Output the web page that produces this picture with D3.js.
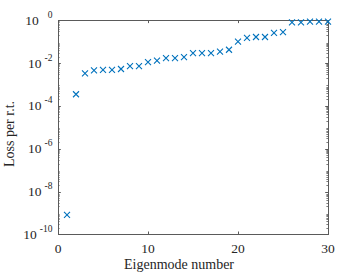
<!DOCTYPE html>
<html><head><meta charset="utf-8">
<script src="https://cdn.jsdelivr.net/npm/d3@7"></script>
<style>
body{margin:0;background:#fff;}
svg{display:block;}
text{font-family:"Liberation Serif","Times New Roman",serif;fill:#262626;}
</style></head>
<body><svg id="c" width="363" height="273"></svg>
<script>
const modes = d3.range(1, 31);
const losses = [8e-10, 3.5e-4, 3.3e-3, 4.6e-3, 4.8e-3, 4.8e-3, 5.3e-3, 7.3e-3, 7.3e-3, 1.1e-2,
  1.3e-2, 1.7e-2, 1.7e-2, 1.9e-2, 2.9e-2, 2.95e-2, 2.95e-2, 3.4e-2, 4.2e-2, 0.1,
  0.15, 0.166, 0.166, 0.26, 0.28, 0.8, 0.8, 0.86, 0.86, 0.86];
const xTicks = [0, 10, 20, 30];
const yTickExps = [0, -2, -4, -6, -8, -10];
const xLabel = "Eigenmode number";
const yLabel = "Loss per r.t.";

const svg = d3.select("#c");
const L = 58, R = 328, T = 20.3, B = 234.3;
const x = d3.scaleLinear().domain([0, 30]).range([L, R]);
const y = d3.scaleLog().domain([1e-10, 1]).range([B, T]);
const axisColor = "#5a5a5a";

// minor ticks
const minor = [];
for (let e = -10; e < 0; e++) for (let m = 2; m <= 9; m++) minor.push(m * Math.pow(10, e));
const g = svg.append("g");
minor.forEach(v => {
  const yy = Math.round(y(v)) + 0.5;
  g.append("line").attr("x1", L).attr("x2", L + 1.6).attr("y1", yy).attr("y2", yy).attr("stroke", axisColor).attr("stroke-width", 0.8);
  g.append("line").attr("x1", R).attr("x2", R - 1.6).attr("y1", yy).attr("y2", yy).attr("stroke", axisColor).attr("stroke-width", 0.8);
});
// major y ticks
yTickExps.forEach(e => {
  const yy = Math.round(y(Math.pow(10, e))) + 0.5;
  g.append("line").attr("x1", L).attr("x2", L + 2.8).attr("y1", yy).attr("y2", yy).attr("stroke", axisColor);
  g.append("line").attr("x1", R).attr("x2", R - 2.8).attr("y1", yy).attr("y2", yy).attr("stroke", axisColor);
  const t = g.append("text").attr("x", 52.5).attr("y", y(Math.pow(10, e)) + 4.5).attr("text-anchor", "end").attr("font-size", 13.5);
  t.append("tspan").text("10");
  t.append("tspan").attr("dx", e === 0 ? 9 : 3).attr("dy", -7).attr("font-size", 9.5).text(String(e));
});
// x ticks
xTicks.forEach(v => {
  const xx = Math.round(x(v)) + 0.5;
  g.append("line").attr("x1", xx).attr("x2", xx).attr("y1", B).attr("y2", B - 2.8).attr("stroke", axisColor);
  g.append("line").attr("x1", xx).attr("x2", xx).attr("y1", T).attr("y2", T + 2.8).attr("stroke", axisColor);
  g.append("text").attr("x", x(v)).attr("y", 252.5).attr("text-anchor", "middle").attr("font-size", 13.5).text(v);
});
// box
g.append("rect").attr("x", Math.round(L) + 0.5).attr("y", Math.round(T) + 0.5)
  .attr("width", Math.round(R) - Math.round(L)).attr("height", Math.round(B) - Math.round(T))
  .attr("fill", "none").attr("stroke", axisColor).attr("stroke-width", 1);

// labels
svg.append("text").attr("x", 179).attr("y", 268.5).attr("text-anchor", "middle").attr("font-size", 14).text(xLabel);
svg.append("text").attr("transform", "translate(14," + 134 + ") rotate(-90)").attr("text-anchor", "middle").attr("font-size", 14).text(yLabel);

// markers
const s = 3;
const mk = svg.append("g").attr("stroke", "#0072BD").attr("stroke-width", 1.1).attr("fill", "none");
modes.forEach((m, i) => {
  const cx = x(m), cy = y(losses[i]);
  mk.append("path").attr("d", `M${cx - s},${cy - s}L${cx + s},${cy + s}M${cx - s},${cy + s}L${cx + s},${cy - s}`);
});
</script></body></html>
